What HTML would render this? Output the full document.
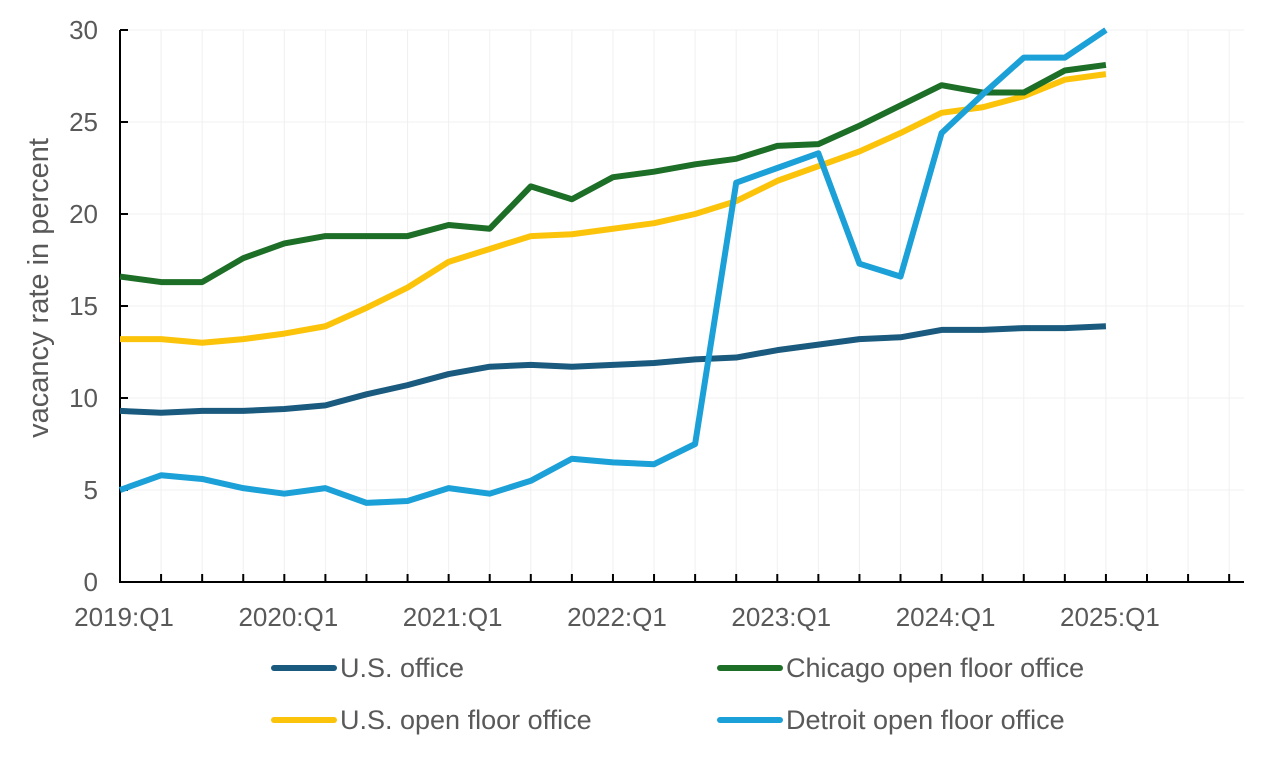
<!DOCTYPE html>
<html><head><meta charset="utf-8"><style>
body{margin:0;background:#fff;}
svg text{font-family:"Liberation Sans",sans-serif;fill:#595959;}
</style></head><body>
<svg id="chart" width="1285" height="753"></svg>
<script>
const quarters=['2019:Q1','','','','2020:Q1','','','','2021:Q1','','','','2022:Q1','','','','2023:Q1','','','','2024:Q1','','','','2025:Q1'];
const usOffice=[9.3,9.2,9.3,9.3,9.4,9.6,10.2,10.7,11.3,11.7,11.8,11.7,11.8,11.9,12.1,12.2,12.6,12.9,13.2,13.3,13.7,13.7,13.8,13.8,13.9];
const chicago=[16.6,16.3,16.3,17.6,18.4,18.8,18.8,18.8,19.4,19.2,21.5,20.8,22.0,22.3,22.7,23.0,23.7,23.8,24.8,25.9,27.0,26.6,26.6,27.8,28.1];
const usOpen=[13.2,13.2,13.0,13.2,13.5,13.9,14.9,16.0,17.4,18.1,18.8,18.9,19.2,19.5,20.0,20.7,21.8,22.6,23.4,24.4,25.5,25.8,26.4,27.3,27.6];
const detroit=[5.0,5.8,5.6,5.1,4.8,5.1,4.3,4.4,5.1,4.8,5.5,6.7,6.5,6.4,7.5,21.7,22.5,23.3,17.3,16.6,24.4,26.5,28.5,28.5,30.0];
const yTicks=[0,5,10,15,20,25,30];
const NS='http://www.w3.org/2000/svg';
const svg=document.getElementById('chart');
const x=i=>120+i*41.08;
const y=v=>582-v*18.4;
function mk(t,a,p){const e=document.createElementNS(NS,t);for(const k in a)e.setAttribute(k,a[k]);(p||svg).appendChild(e);return e;}
for(let i=1;i<=27;i++){const g=mk('line',{x1:x(i),x2:x(i),y1:30,y2:582,stroke:'#f0f0f0','stroke-width':1});

}
yTicks.forEach(v=>{if(v>0){const g=mk('line',{x1:120,x2:1244,y1:y(v),y2:y(v),stroke:'#f0f0f0','stroke-width':1});

}
const tk=mk('line',{x1:120,x2:128,y1:y(v),y2:y(v),stroke:'#000','stroke-width':2});


const t=mk('text',{x:98,y:y(v)+9,'font-size':26,'text-anchor':'end'});t.textContent=v;

});
for(let i=1;i<=27;i++){const tk=mk('line',{x1:x(i),x2:x(i),y1:574,y2:582,stroke:'#000','stroke-width':2});

}
quarters.forEach((q,i)=>{if(q){const t=mk('text',{x:x(i)+4,y:626,'font-size':26,'text-anchor':'middle'});t.textContent=q;

}});
const ax=mk('path',{d:'M120 30V582H1244',fill:'none',stroke:'#000','stroke-width':2});


const yt=mk('text',{x:0,y:0,'font-size':29,'text-anchor':'middle',transform:'translate(48,288) rotate(-90)'});yt.textContent='vacancy rate in percent';


const series=[[usOffice,'#1a5a7e','us-office-line'],[usOpen,'#fcc30b','us-open-floor-line'],[chicago,'#1d6e26','chicago-line'],[detroit,'#1ba0d7','detroit-line']];
series.forEach(([d,c,n])=>{const p=mk('polyline',{points:d.map((v,i)=>x(i)+','+y(v)).join(' '),fill:'none',stroke:c,'stroke-width':6,'stroke-linejoin':'round'});

});
const legend=[['U.S. office','#1a5a7e',274,668],['Chicago open floor office','#1d6e26',720,668],['U.S. open floor office','#fcc30b',274,720],['Detroit open floor office','#1ba0d7',720,720]];
legend.forEach(([l,c,lx,ly])=>{const g=mk('g',{});


mk('line',{x1:lx,x2:lx+60,y1:ly,y2:ly,stroke:c,'stroke-width':6,'stroke-linecap':'round'},g);
const t=mk('text',{x:lx+66,y:ly+9,'font-size':27},g);t.textContent=l;});
</script>
</body></html>
